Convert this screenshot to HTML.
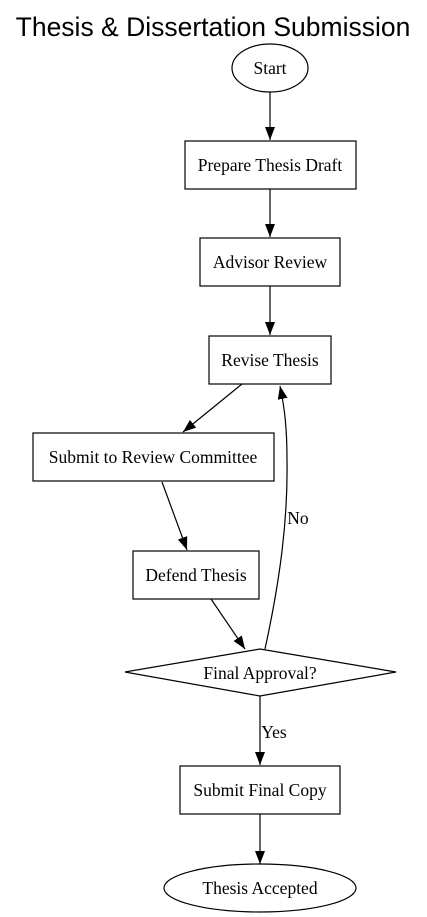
<!DOCTYPE html>
<html><head><style>body{margin:0;background:#fff}svg{display:block}</style></head><body>
<svg width="427" height="917" viewBox="0 0 427 917" xmlns="http://www.w3.org/2000/svg">
<defs><marker id="a" markerWidth="14" markerHeight="12" refX="13" refY="5.5" orient="auto" markerUnits="userSpaceOnUse"><path d="M0,0.5 L13,5.5 L0,10.5 z" fill="#000"/></marker></defs>
<text x="213" y="36" text-anchor="middle" font-family="Liberation Sans, sans-serif" font-size="26.5">Thesis &amp; Dissertation Submission</text>
<g fill="none" stroke="#000" stroke-width="1.2">
<ellipse cx="270" cy="68" rx="38" ry="24"/>
<rect x="185" y="141" width="171" height="48"/>
<rect x="200" y="238" width="140" height="48"/>
<rect x="209" y="336" width="122" height="48"/>
<rect x="33" y="433" width="241" height="48"/>
<rect x="133" y="551" width="126" height="48"/>
<polygon points="125,672 260,649 396,672 260,696"/>
<rect x="180" y="766" width="160" height="48"/>
<ellipse cx="260" cy="888" rx="96" ry="24"/>
<line x1="270" y1="92" x2="270" y2="140" marker-end="url(#a)"/>
<line x1="270" y1="189" x2="270" y2="237" marker-end="url(#a)"/>
<line x1="270" y1="286" x2="270" y2="335" marker-end="url(#a)"/>
<line x1="242" y1="384" x2="183" y2="432" marker-end="url(#a)"/>
<line x1="162" y1="482" x2="187" y2="550" marker-end="url(#a)"/>
<line x1="211" y1="599" x2="245" y2="649" marker-end="url(#a)"/>
<path d="M265,649 C280,580 288,520 287,460 C287,430 285,410 280,386" marker-end="url(#a)"/>
<line x1="260" y1="696" x2="260" y2="765" marker-end="url(#a)"/>
<line x1="260" y1="814" x2="260" y2="864" marker-end="url(#a)"/>
</g>
<g font-family="Liberation Serif, serif" font-size="17.5" text-anchor="middle">
<text x="270" y="74">Start</text>
<text x="270" y="171">Prepare Thesis Draft</text>
<text x="270" y="268">Advisor Review</text>
<text x="270" y="366">Revise Thesis</text>
<text x="153" y="463">Submit to Review Committee</text>
<text x="196" y="581">Defend Thesis</text>
<text x="260" y="679">Final Approval?</text>
<text x="260" y="796">Submit Final Copy</text>
<text x="260" y="894">Thesis Accepted</text>
<text x="298" y="524">No</text>
<text x="274" y="738">Yes</text>
</g>
</svg>
</body></html>
